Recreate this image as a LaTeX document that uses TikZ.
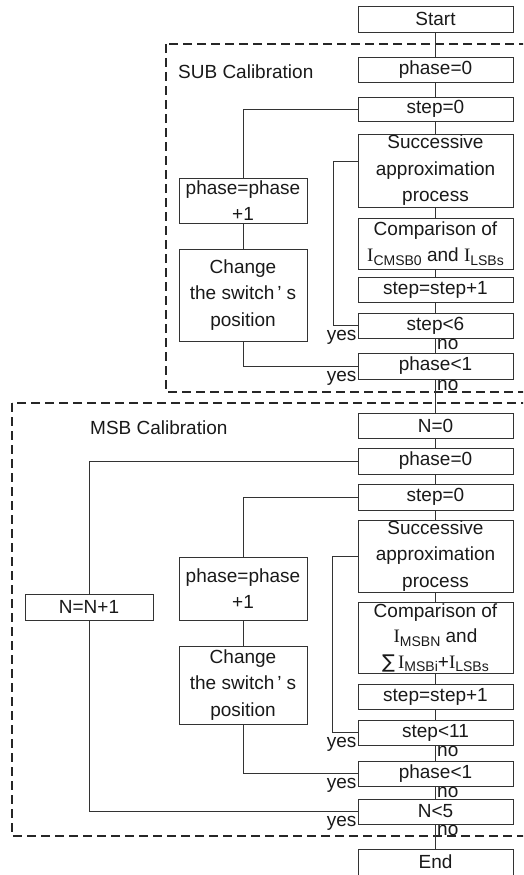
\documentclass[tikz,border=0pt]{standalone}
\usepackage{fontspec}
\setmainfont{Liberation Sans}
\newfontfamily\serI{Liberation Serif}
\newfontfamily\dejavu{DejaVu Sans}
\usetikzlibrary{calc}
\newcommand\sbs[1]{\raisebox{-3.5pt}{\fontsize{14}{14}\selectfont #1}}
\newcommand\Ii{{\serI I}}
\begin{document}
\begin{tikzpicture}[x=1pt,y=-1pt,
  box/.style={draw=black!80, line width=0.9pt, rectangle, inner sep=0pt, minimum width=155pt, align=center, font=\fontsize{19}{26.5}\selectfont, text=black!90},
  lbox/.style={box, minimum width=128pt},
  wire/.style={draw=black!80, line width=0.9pt},
  frame/.style={draw=black!85, line width=1.3pt, dash pattern=on 9pt off 5pt},
  lab/.style={font=\fontsize{19}{22}\selectfont, inner sep=0pt, text=black!90}]
\useasboundingbox (0,0) rectangle (523,875);
\clip (0,0) rectangle (523,875);

% frames
\draw[frame] (166,44) rectangle (545,392);
\draw[frame] (12,403) rectangle (545,836);
\node[lab, anchor=west] (tsub) at (178,72) {SUB Calibration};
\node[lab, anchor=west] (tmsb) at (90,428) {MSB Calibration};

% SUB column
\node[box, minimum height=26pt] (start) at (435.5,19) {Start};
\node[box, minimum height=25pt] (p0a) at (435.5,69.5) {phase=0};
\node[box, minimum height=24pt] (s0a) at (435.5,109) {step=0};
\node[box, minimum height=73pt] (saa) at (435.5,170.5) {Successive\\approximation\\process};
\node[box, minimum height=51pt] (cmpa) at (435.5,243.5) {Comparison of\\\Ii\sbs{CMSB0} and \Ii\sbs{LSBs}};
\node[box, minimum height=25pt] (inca) at (435.5,289.5) {step=step+1};
\node[box, minimum height=25pt] (s6) at (435.5,325.5) {step<6};
\node[box, minimum height=26pt] (ph1a) at (435.5,366) {phase<1};
\node[lbox, minimum height=45pt] (ppa) at (243,200.5) {phase=phase\\+1};
\node[lbox, minimum height=92pt] (chga) at (243,295) {Change\\the switch\kern3pt’\kern5pt s\\position};

% MSB column
\node[box, minimum height=25pt] (n0) at (435.5,425.5) {N=0};
\node[box, minimum height=26pt] (p0b) at (435.5,461) {phase=0};
\node[box, minimum height=26pt] (s0b) at (435.5,497) {step=0};
\node[box, minimum height=72pt] (sab) at (435.5,556) {Successive\\approximation\\process};
\node[box, minimum height=71pt, font=\fontsize{19}{25.5}\selectfont] (cmpb) at (435.5,637.5) {Comparison of\\\Ii\sbs{MSBN} and\\{\dejavu ∑}\,\Ii\sbs{MSBi}+\Ii\sbs{LSBs}};
\node[box, minimum height=25pt] (incb) at (435.5,696.5) {step=step+1};
\node[box, minimum height=25pt] (s11) at (435.5,732.5) {step<11};
\node[box, minimum height=25pt] (ph1b) at (435.5,773.5) {phase<1};
\node[box, minimum height=25pt] (n5) at (435.5,811.5) {N<5};
\node[box, minimum height=26pt] (end) at (435.5,862) {End};
\node[lbox, minimum height=26pt] (nn1) at (89,607) {N=N+1};
\node[lbox, minimum height=63pt] (ppb) at (243,588.5) {phase=phase\\+1};
\node[lbox, minimum height=78pt] (chgb) at (243,685) {Change\\the switch\kern3pt’\kern5pt s\\position};

% main line
\draw[wire] (start) -- (p0a);
\draw[wire] (p0a) -- (s0a);
\draw[wire] (s0a) -- (saa);
\draw[wire] (saa) -- (cmpa);
\draw[wire] (cmpa) -- (inca);
\draw[wire] (inca) -- (s6);
\draw[wire] (s6) -- (ph1a);
\draw[wire] (ph1a) -- (n0);
\draw[wire] (n0) -- (p0b);
\draw[wire] (p0b) -- (s0b);
\draw[wire] (s0b) -- (sab);
\draw[wire] (sab) -- (cmpb);
\draw[wire] (cmpb) -- (incb);
\draw[wire] (incb) -- (s11);
\draw[wire] (s11) -- (ph1b);
\draw[wire] (ph1b) -- (n5);
\draw[wire] (n5) -- (end);

% SUB loops
\coordinate (ia) at (333,161);
\draw[wire] (s6.west) -| (ia) -- (ia -| saa.west);
\draw[wire] (s0a.west) -| (ppa.north);
\draw[wire] (ppa) -- (chga);
\draw[wire] (chga.south) |- (ph1a.west);

% MSB loops
\coordinate (ib) at (332,556);
\draw[wire] (s11.west) -| (ib) -- (sab.west);
\draw[wire] (s0b.west) -| (ppb.north);
\draw[wire] (ppb) -- (chgb);
\draw[wire] (chgb.south) |- (ph1b.west);
\draw[wire] (p0b.west) -| (nn1.north);
\draw[wire] (nn1.south) |- (n5.west);

% yes / no labels
\foreach \n in {s6,ph1a,s11,ph1b,n5}{
  \node[lab, anchor=base east] at ($(\n.south west)+(-1,2)$) {yes};
  \node[lab, anchor=base west] at ($(\n.south)+(1.5,11)$) {no};
}
\end{tikzpicture}
\end{document}
